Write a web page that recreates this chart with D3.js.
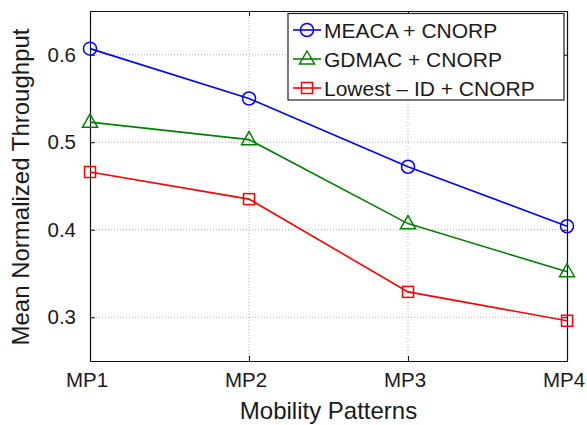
<!DOCTYPE html>
<html>
<head>
<meta charset="utf-8">
<script src="https://cdn.jsdelivr.net/npm/d3@7.9.0/dist/d3.min.js"></script>
<style>
  body { margin: 0; background: #fff; }
  svg { display: block; font-family: "Liberation Sans", Arial, sans-serif; }
</style>
</head>
<body>
<div id="chart"></div>
<script>
const categories = ['MP1', 'MP2', 'MP3', 'MP4'];
const meaca  = [0.607, 0.550, 0.472, 0.404];
const gdmac  = [0.523, 0.503, 0.407, 0.352];
const lowest = [0.466, 0.435, 0.329, 0.296];
const yTicks = [0.3, 0.4, 0.5, 0.6];

const series = [
  { name: 'MEACA + CNORP', values: meaca, color: '#0000ff', marker: 'circle' },
  { name: 'GDMAC + CNORP', values: gdmac, color: '#008000', marker: 'triangle' },
  { name: 'Lowest \u2013 ID + CNORP', values: lowest, color: '#ff0000', marker: 'square' },
];

const width = 587;
const height = 425;
const margin = { top: 11, right: 20, bottom: 64, left: 90 };

const svg = d3.select('#chart')
  .append('svg')
  .attr('width', width)
  .attr('height', height);

const x = d3.scalePoint()
  .domain(categories)
  .range([margin.left, width - margin.right]);

const y = d3.scaleLinear()
  .domain([0.25, 0.65])
  .range([height - margin.bottom, margin.top]);

// grid lines
const grid = svg.append('g').attr('class', 'grid');
grid.selectAll('line.h')
  .data(yTicks)
  .join('line')
  .attr('class', 'h')
  .attr('x1', margin.left).attr('x2', width - margin.right)
  .attr('y1', d => y(d)).attr('y2', d => y(d));
grid.selectAll('line.v')
  .data(categories.slice(1, -1))
  .join('line')
  .attr('class', 'v')
  .attr('y1', margin.top).attr('y2', height - margin.bottom)
  .attr('x1', d => x(d)).attr('x2', d => x(d));
grid.selectAll('line')
  .attr('stroke', '#999')
  .attr('stroke-width', 0.8)
  .attr('stroke-dasharray', '1,2');

// axes (ticks pointing inward, MATLAB style)
const tickLen = 5;
const xAxis = svg.append('g')
  .attr('transform', `translate(0,${height - margin.bottom})`)
  .call(d3.axisBottom(x).tickSizeInner(-tickLen).tickSizeOuter(0).tickPadding(11));
xAxis.selectAll('.tick text').attr('dx', -3.5);
svg.append('g')
  .attr('transform', `translate(0,${margin.top})`)
  .call(d3.axisTop(x).tickSizeInner(-tickLen).tickSizeOuter(0).tickFormat(''));
svg.append('g')
  .attr('transform', `translate(${margin.left},0)`)
  .call(d3.axisLeft(y).tickValues(yTicks).tickFormat(d3.format('.1f'))
    .tickSizeInner(-tickLen).tickSizeOuter(0).tickPadding(14));
svg.append('g')
  .attr('transform', `translate(${width - margin.right},0)`)
  .call(d3.axisRight(y).tickValues(yTicks).tickFormat('')
    .tickSizeInner(-tickLen).tickSizeOuter(0));

svg.selectAll('.domain').attr('stroke', '#111').attr('stroke-width', 1.2);
svg.selectAll('.tick line').attr('stroke', '#111');
svg.selectAll('.tick text')
  .attr('fill', '#1a1a1a')
  .style('font-size', '20.5px')
  .style('font-family', '"Liberation Sans", Arial, sans-serif');

// axis titles
svg.append('text')
  .attr('x', (margin.left + width - margin.right) / 2)
  .attr('y', 419)
  .attr('text-anchor', 'middle')
  .style('font-size', '24px')
  .attr('fill', '#1a1a1a')
  .text('Mobility Patterns');

svg.append('text')
  .attr('transform', `translate(29,${(margin.top + height - margin.bottom) / 2 + 1}) rotate(-90)`)
  .attr('text-anchor', 'middle')
  .style('font-size', '24px')
  .attr('fill', '#1a1a1a')
  .text('Mean Normalized Throughput');

// markers
function drawMarker(g, type, color) {
  if (type === 'circle') {
    g.append('circle').attr('r', 6.5);
  } else if (type === 'triangle') {
    g.append('path').attr('d', 'M0,-8L7.5,5L-7.5,5Z');
  } else {
    g.append('rect').attr('x', -5.5).attr('y', -5.5).attr('width', 11).attr('height', 11);
  }
  g.selectAll('*').attr('fill', 'none').attr('stroke', color).attr('stroke-width', 1.5);
}

const line = d3.line()
  .x((d, i) => x(categories[i]))
  .y(d => y(d));

series.forEach(s => {
  const g = svg.append('g');
  g.append('path')
    .datum(s.values)
    .attr('d', line)
    .attr('fill', 'none')
    .attr('stroke', s.color)
    .attr('stroke-width', 1.6);
  g.selectAll('g.m')
    .data(s.values)
    .join('g')
    .attr('class', 'm')
    .attr('transform', (d, i) => `translate(${x(categories[i])},${y(d)})`)
    .each(function () { drawMarker(d3.select(this), s.marker, s.color); });
});

// legend
const legend = svg.append('g').attr('transform', 'translate(288,13.5)');
legend.append('rect')
  .attr('width', 276).attr('height', 86.5)
  .attr('fill', '#fff').attr('stroke', '#222').attr('stroke-width', 1.2);
series.forEach((s, i) => {
  const row = legend.append('g').attr('transform', `translate(0,${16.5 + i * 29})`);
  row.append('line')
    .attr('x1', 5).attr('x2', 33)
    .attr('stroke', s.color).attr('stroke-width', 1.6);
  const m = row.append('g').attr('transform', 'translate(19,0)');
  drawMarker(m, s.marker, s.color);
  row.append('text')
    .attr('x', 36).attr('y', 7.5)
    .style('font-size', '21px')
    .attr('fill', '#1a1a1a')
    .text(s.name);
});
</script>
</body>
</html>
